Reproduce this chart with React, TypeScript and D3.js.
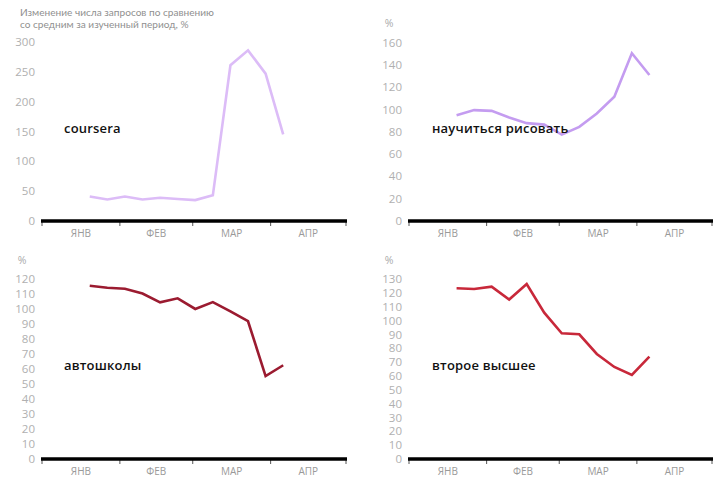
import React from "react";
import * as d3 from "d3";

const weeks = ["2020-01-20","2020-01-27","2020-02-03","2020-02-10","2020-02-17","2020-02-24","2020-03-02","2020-03-09","2020-03-16","2020-03-23","2020-03-30","2020-04-06"];
const months = ["ЯНВ","ФЕВ","МАР","АПР"];
const monthStarts = ["2020-01-01","2020-02-01","2020-03-01","2020-04-01","2020-05-01"];

const coursera = [41, 36, 41, 36, 39, 37, 35, 43, 261, 286, 247, 145];
const risovat = [95, 99.5, 98.8, 92.8, 87.8, 86.5, 77.5, 84.5, 96.5, 111.5, 150.5, 131];
const avtoshkoly = [115.7, 114.4, 113.7, 110.5, 104.6, 107.3, 100.2, 104.8, 98.6, 92, 55.4, 62.6];
const vtoroe = [123.5, 123, 124.7, 115.4, 126.6, 105.9, 90.9, 90.2, 76, 66.6, 60.8, 74];

const ticksCoursera = [0, 50, 100, 150, 200, 250, 300];
const ticksRisovat = [0, 20, 40, 60, 80, 100, 120, 140, 160];
const ticksAvto = [0, 10, 20, 30, 40, 50, 60, 70, 80, 90, 100, 110, 120];
const ticksVtoroe = [0, 10, 20, 30, 40, 50, 60, 70, 80, 90, 100, 110, 120, 130];

const titleLines = ["Изменение числа запросов по сравнению", "со средним за изученный период, %"];

const parse = d3.timeParse("%Y-%m-%d");
const FONT = "'Open Sans', 'Noto Sans', sans-serif";

type PanelProps = {
  x0: number; x1: number; yBase: number; yTop: number;
  ticks: number[]; values: number[]; color: string; label: string;
  labelX: number; labelY: number; percentY?: number;
};

function Panel(p: PanelProps) {
  const x = d3.scaleTime()
    .domain([parse(monthStarts[0])!, parse(monthStarts[4])!])
    .range([p.x0, p.x1]);
  const maxT = p.ticks[p.ticks.length - 1];
  const y = d3.scaleLinear().domain([0, maxT]).range([p.yBase, p.yTop]);
  const line = d3.line<number>()
    .x((_, i) => x(parse(weeks[i])!))
    .y((d) => y(d));
  const starts = monthStarts.map((m) => x(parse(m)!));
  return (
    <g>
      {p.percentY !== undefined && (
        <text x={p.x0 - 20} y={p.percentY} fontSize={10.5} fill="#aaa" fontFamily={FONT} textAnchor="middle">%</text>
      )}
      {p.ticks.map((t) => (
        <text key={t} x={p.x0 - 7} y={y(t)} dy="0.35em" fontSize={11.5} fill="#b0b0b0" fontFamily={FONT} textAnchor="end">{t}</text>
      ))}
      {starts.map((sx, i) => (
        <line key={i} x1={sx} x2={sx} y1={p.yBase} y2={p.yBase + 5} stroke="#555" strokeWidth={1} />
      ))}
      <line x1={p.x0 - 1} x2={p.x1 + 1} y1={p.yBase} y2={p.yBase} stroke="#000" strokeWidth={3.5} />
      {months.map((m, i) => (
        <text key={m} x={(starts[i] + starts[i + 1]) / 2} y={p.yBase + 16} fontSize={10} fill="#9a9a9a" fontFamily={FONT} textAnchor="middle">{m}</text>
      ))}
      <path d={line(p.values) || ""} fill="none" stroke={p.color} strokeWidth={2.6} strokeLinejoin="miter" />
      <text x={p.labelX} y={p.labelY} fontSize={13} fontWeight={600} fill="#111" fontFamily={FONT} letterSpacing={0.2}>{p.label}</text>
    </g>
  );
}

export default function App() {
  return (
    <svg width={728} height={483} style={{ position: "absolute", left: 0, top: 0, background: "#fff" }}>
      {titleLines.map((t, i) => (
        <text key={i} x={20} y={16 + i * 12} fontSize={10.1} fill="#8f8f8f" fontFamily="Lato, 'Open Sans', sans-serif">{t}</text>
      ))}
      <Panel x0={42} x1={346} yBase={221} yTop={42} ticks={ticksCoursera} values={coursera} color="#dcbcf7" label="coursera" labelX={64} labelY={133} />
      <Panel x0={409} x1={712} yBase={221} yTop={42.7} ticks={ticksRisovat} values={risovat} color="#c49cf0" label="научиться рисовать" labelX={432} labelY={133} percentY={27} />
      <Panel x0={42} x1={346} yBase={459} yTop={279.3} ticks={ticksAvto} values={avtoshkoly} color="#9b1b30" label="автошколы" labelX={64} labelY={370} percentY={264} />
      <Panel x0={409} x1={712} yBase={459} yTop={279.3} ticks={ticksVtoroe} values={vtoroe} color="#c8283a" label="второе высшее" labelX={432} labelY={370} percentY={264} />
    </svg>
  );
}
